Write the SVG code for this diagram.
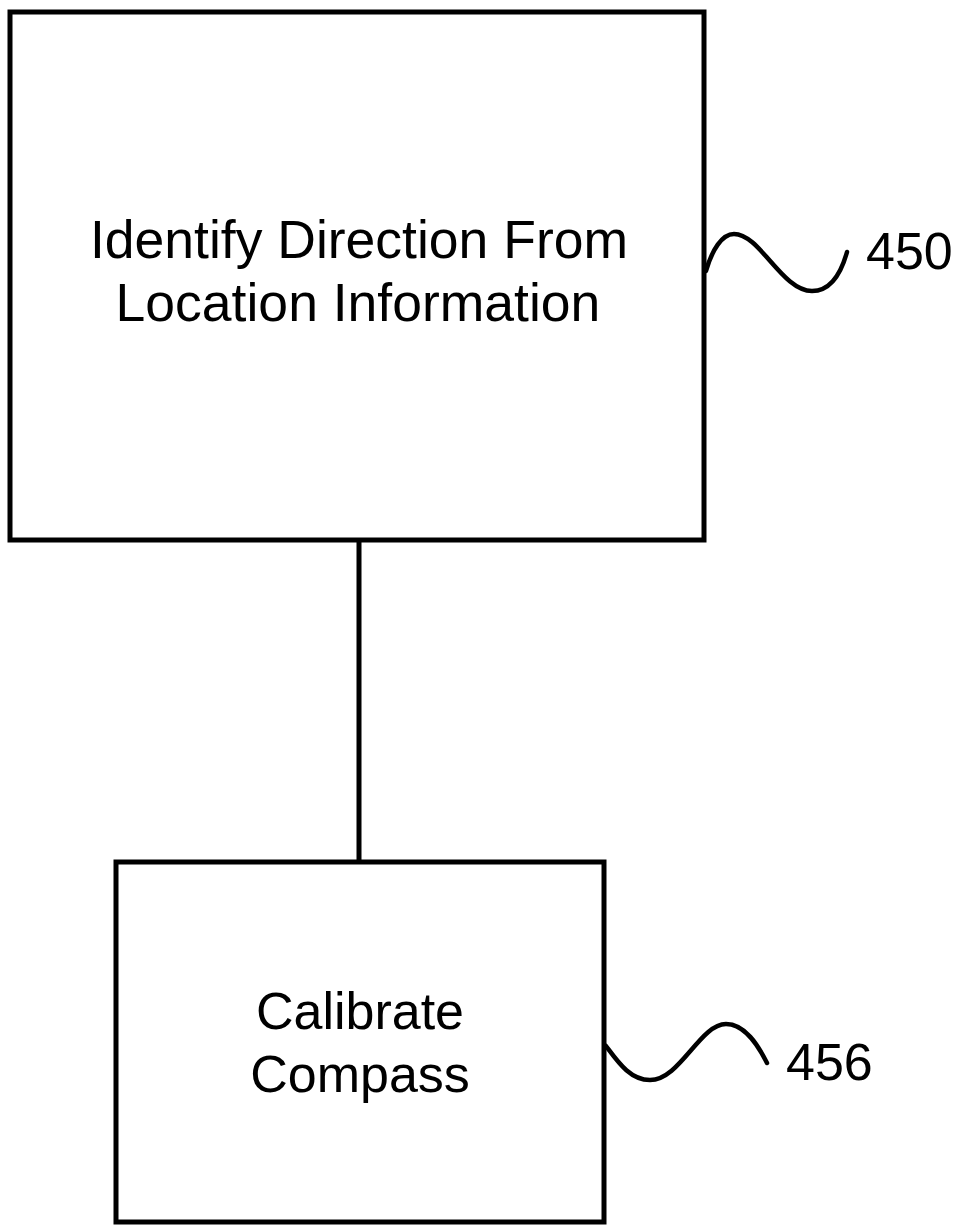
<svg xmlns="http://www.w3.org/2000/svg" width="959" height="1226" viewBox="0 0 959 1226">
<style>
.box{fill:#fff;stroke:#000;stroke-width:5}
.lbl{font-family:"Liberation Sans",Arial,sans-serif;fill:#000;text-anchor:middle}
.ref{font-family:"Liberation Sans",Arial,sans-serif;fill:#000;font-size:52px}
.sq{fill:none;stroke:#000;stroke-width:4.5;stroke-linecap:round}
.conn{stroke:#000;stroke-width:5;fill:none}
</style>
<rect width="959" height="1226" fill="#fff"/>
<g id="connectors">
<line class="conn" x1="359" y1="540" x2="359" y2="862"/>
</g>
<g id="node450">
<rect class="box" x="10" y="12" width="694" height="528"/>
<text class="lbl" x="359" y="258" font-size="53.5">Identify Direction From</text>
<text class="lbl" x="358" y="321" font-size="53.5">Location Information</text>
<path class="sq" d="M706,271 C712,250 722,234 734,234 C760,234 782,291 812,291 C832,291 842,270 847,252"/>
<text class="ref" x="866" y="269">450</text>
</g>
<g id="node456">
<rect class="box" x="116" y="862" width="488" height="360"/>
<text class="lbl" x="360" y="1029" font-size="52">Calibrate</text>
<text class="lbl" x="360" y="1092" font-size="52">Compass</text>
<path class="sq" d="M606,1046 C618,1062 630,1080 650,1080 C680,1080 700,1024 726,1024 C745,1024 758,1045 767,1063"/>
<text class="ref" x="786" y="1080">456</text>
</g>
</svg>
